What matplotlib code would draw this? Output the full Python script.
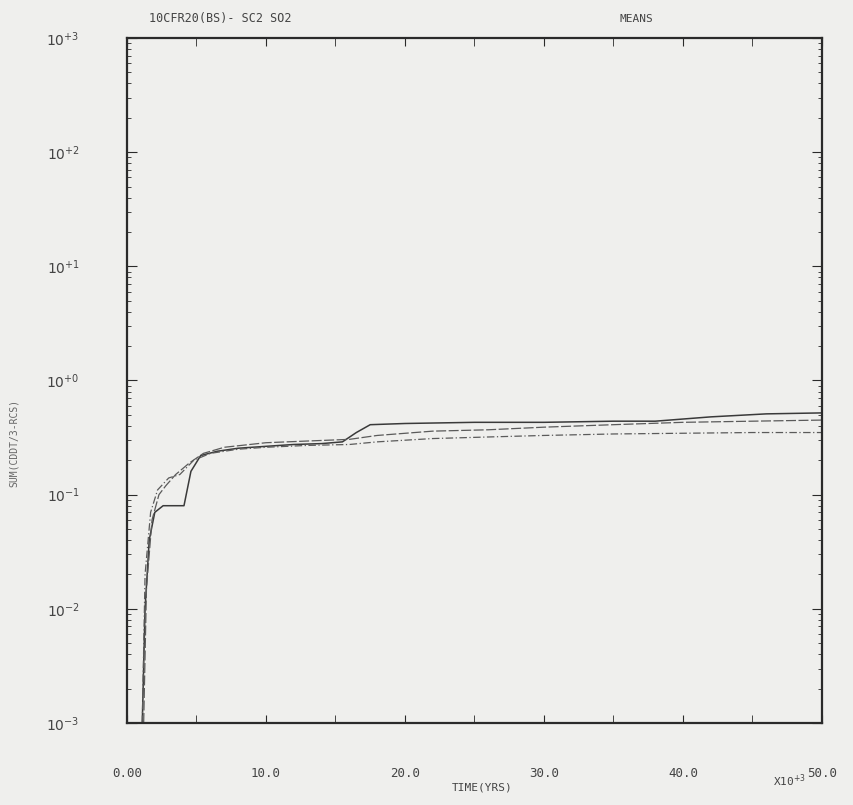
import numpy as np
import matplotlib
matplotlib.use("Agg")
import matplotlib.pyplot as plt
from matplotlib.ticker import FixedLocator, FixedFormatter, LogLocator, NullFormatter

# DATA (time in 1000 yrs, value on log scale)
t_solid = [1.1, 1.3, 1.6, 2.0, 2.6, 3.0, 4.1, 4.6, 5.3, 6.5, 8.0, 10.0, 12.0, 14.0, 15.5,
           16.5, 17.5, 20.0, 25.0, 30.0, 35.0, 38.0, 42.0, 46.0, 50.0]
v_solid = [0.001, 0.01, 0.04, 0.07, 0.08, 0.08, 0.08, 0.16, 0.22, 0.24, 0.255, 0.265, 0.275,
           0.28, 0.29, 0.35, 0.41, 0.42, 0.43, 0.43, 0.44, 0.44, 0.48, 0.51, 0.52]

t_dash = [1.2, 1.4, 1.8, 2.3, 2.8, 3.5, 4.5, 5.5, 7.0, 10.0, 13.0, 16.0, 18.0, 22.0, 26.0,
          30.0, 35.0, 40.0, 45.0, 50.0]
v_dash = [0.001, 0.015, 0.06, 0.10, 0.12, 0.15, 0.19, 0.23, 0.26, 0.285, 0.295, 0.305, 0.33,
          0.36, 0.37, 0.39, 0.41, 0.43, 0.44, 0.45]

t_dot = [1.1, 1.3, 1.7, 2.2, 3.0, 3.8, 4.8, 6.0, 8.0, 10.0, 13.0, 16.0, 18.0, 22.0, 26.0,
         30.0, 35.0, 40.0, 45.0, 50.0]
v_dot = [0.001, 0.02, 0.07, 0.11, 0.14, 0.15, 0.20, 0.23, 0.25, 0.26, 0.27, 0.275, 0.29,
         0.31, 0.32, 0.33, 0.34, 0.345, 0.35, 0.35]

x_ticks = [0, 10, 20, 30, 40, 50]
x_labels = ["0.00", "10.0", "20.0", "30.0", "40.0", "50.0"]
y_ticks = [1e-3, 1e-2, 1e-1, 1e0, 1e1, 1e2, 1e3]
y_labels = [r"$10^{-3}$", r"$10^{-2}$", r"$10^{-1}$", r"$10^{+0}$",
            r"$10^{+1}$", r"$10^{+2}$", r"$10^{+3}$"]

BG = "#efefed"
INK = "#2a2a2a"
TXT = "#444444"

plt.rcParams['font.family'] = ['DejaVu Sans Mono']
plt.rcParams['mathtext.fontset'] = 'dejavusans'

fig = plt.figure(figsize=(8.54, 8.05), dpi=100, facecolor=BG)
ax = fig.add_axes([0.1487, 0.1019, 0.8138, 0.8509], facecolor=BG)

ax.plot(t_solid, v_solid, color="#3a3a3a", lw=1.1, ls='-')
ax.plot(t_dash, v_dash, color="#5a5a5a", lw=0.9, ls=(0, (8, 2)))
ax.plot(t_dot, v_dot, color="#5a5a5a", lw=0.9, ls=(0, (6, 2, 1, 2)))

ax.set_yscale('log')
ax.set_xlim(0, 50)
ax.set_ylim(1e-3, 1e3)

ax.xaxis.set_major_locator(FixedLocator(x_ticks))
ax.xaxis.set_major_formatter(FixedFormatter(x_labels))
ax.xaxis.set_minor_locator(FixedLocator(np.arange(5, 50, 10)))
ax.yaxis.set_major_locator(FixedLocator(y_ticks))
ax.yaxis.set_major_formatter(FixedFormatter(y_labels))
ax.yaxis.set_minor_locator(LogLocator(base=10, subs=np.arange(2, 10), numticks=20))
ax.yaxis.set_minor_formatter(NullFormatter())

ax.tick_params(axis='both', which='both', direction='in', colors=INK,
               top=True, right=True, labelcolor=TXT)
ax.tick_params(axis='x', which='major', length=6, labelsize=9, pad=32)
ax.tick_params(axis='x', which='minor', length=6)
ax.tick_params(axis='y', which='major', length=7, labelsize=10, pad=34)
ax.tick_params(axis='y', which='minor', length=3)

for s in ax.spines.values():
    s.set_color(INK)
    s.set_linewidth(1.6)

fig.text(0.565, 0.022, "TIME(YRS)", ha='center', va='center', fontsize=8, color=TXT)
fig.text(0.925, 0.030, r"X10$^{+3}$", ha='center', va='center', fontsize=8, color=TXT)
fig.text(0.016, 0.45, "SUM(CDDT/3-RCS)", rotation=90, ha='center', va='center',
         fontsize=7, color="#666666")
fig.text(0.175, 0.977, "10CFR20(BS)- SC2 SO2", ha='left', va='center', fontsize=8.5, color=TXT)
fig.text(0.745, 0.977, "MEANS", ha='center', va='center', fontsize=8, color=TXT)

fig.savefig("out.png", dpi=100, facecolor=BG)
